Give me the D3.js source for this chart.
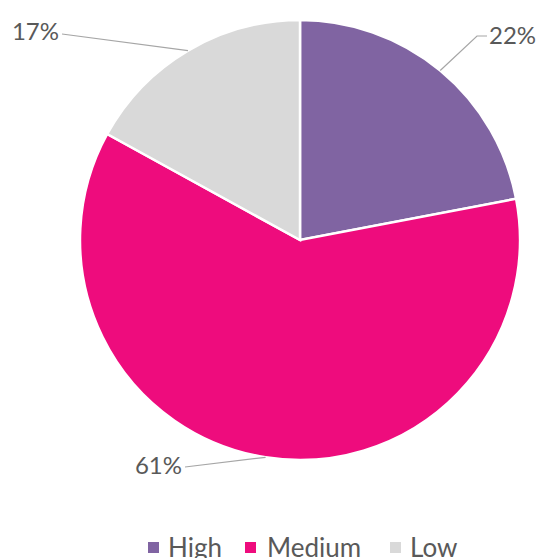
<!DOCTYPE html>
<html>
<head>
<meta charset="utf-8">
<script src="https://cdn.jsdelivr.net/npm/d3@7"></script>
<style>
  body { margin: 0; background: #fff; }
  text { font-family: Lato, "Open Sans", sans-serif; fill: #595959; }
</style>
</head>
<body>
<div class="chart"></div>
<script>
var svgWidth = 540;
var svgHeight = 558;

// data
var categories = ["High", "Medium", "Low"];
var values = [22, 61, 17];
var colors = ["#8064A2", "#EE0C7D", "#D9D9D9"];

var cx = 300, cy = 240, radius = 220;

var svg = d3.select(".chart")
  .append("svg")
  .attr("width", svgWidth)
  .attr("height", svgHeight);

var pieGroup = svg.append("g")
  .attr("transform", `translate(${cx}, ${cy})`);

var pie = d3.pie().sort(null).value(d => d);
var arc = d3.arc().innerRadius(0).outerRadius(radius);
var arcs = pie(values);

pieGroup.selectAll("path")
  .data(arcs)
  .enter()
  .append("path")
  .attr("d", arc)
  .attr("fill", (d, i) => colors[i])
  .attr("stroke", "#fff")
  .attr("stroke-width", 2.5);

// data label layout: leader end (relative to pie centre), text anchor
var labelLayout = [
  { elbow: [177, -204], end: [187, -204], tx: 189, ty: -204, anchor: "start" },
  { elbow: null, end: [-115, 227], tx: -118, ty: 226, anchor: "end" },
  { elbow: null, end: [-238, -206], tx: -241, ty: -208, anchor: "end" }
];

arcs.forEach(function(d, i) {
  var a = (d.startAngle + d.endAngle) / 2;
  var px = radius * Math.sin(a);
  var py = -radius * Math.cos(a);
  var L = labelLayout[i];
  var pts = [[px, py]];
  if (L.elbow) pts.push(L.elbow);
  pts.push(L.end);
  pieGroup.append("path")
    .attr("d", d3.line()(pts))
    .attr("fill", "none")
    .attr("stroke", "#A6A6A6")
    .attr("stroke-width", 1.2);
  pieGroup.append("text")
    .attr("x", L.tx)
    .attr("y", L.ty)
    .attr("dy", "0.35em")
    .attr("text-anchor", L.anchor)
    .style("font-size", "24px")
    .text(d.data + "%");
});

// legend
var legendX = [148, 245, 390];
var legendTextX = [168, 267, 410];
var legend = svg.append("g");
categories.forEach(function(c, i) {
  legend.append("rect")
    .attr("x", legendX[i])
    .attr("y", 542)
    .attr("width", 11)
    .attr("height", 11)
    .attr("fill", colors[i]);
  legend.append("text")
    .attr("x", legendTextX[i])
    .attr("y", 557)
    .style("font-size", "26px")
    .text(c);
});
</script>
</body>
</html>
